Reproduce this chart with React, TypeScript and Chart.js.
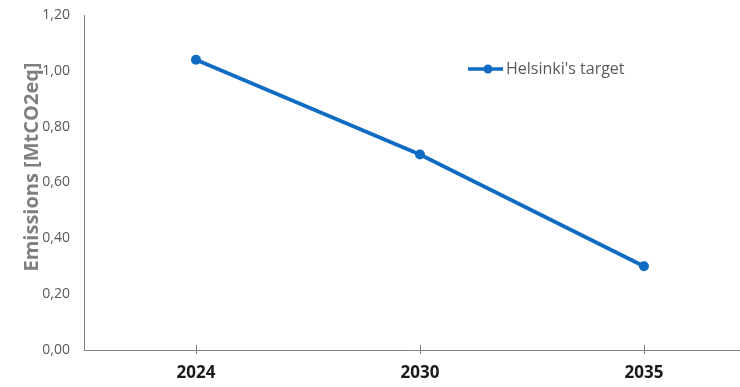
import React, { useEffect, useRef } from "react";
import { Chart, registerables } from "chart.js";

Chart.register(...registerables);

const categories = ["2024", "2030", "2035"];
const targetValues = [1.04, 0.7, 0.3];
const yTicks = [0, 0.2, 0.4, 0.6, 0.8, 1.0, 1.2];
const seriesName = "Helsinki's target";
const yTitle = "Emissions [MtCO2eq]";

const BLUE = "#0f6cc2";
const FONT = "'Open Sans', 'Liberation Sans', sans-serif";

const overlay = {
  id: "overlay",
  afterDraw(chart: any) {
    const ctx = chart.ctx;
    const xs = chart.scales.x;
    const ys = chart.scales.y;
    const axisY = ys.getPixelForValue(0);
    ctx.save();
    // crossing tick marks on x axis
    ctx.strokeStyle = "#808080";
    ctx.lineWidth = 1;
    categories.forEach((_, i) => {
      const px = Math.round(xs.getPixelForValue(i)) + 0.5;
      ctx.beginPath();
      ctx.moveTo(px, axisY - 5);
      ctx.lineTo(px, axisY + 4);
      ctx.stroke();
    });
    // y axis title
    ctx.translate(32, 167);
    ctx.rotate(-Math.PI / 2);
    ctx.fillStyle = "#7f7f7f";
    ctx.font = `bold 20px ${FONT}`;
    ctx.textAlign = "center";
    ctx.textBaseline = "middle";
    ctx.fillText(yTitle, 0, 0);
    ctx.restore();

    // legend
    ctx.save();
    const lx = 468, ly = 69;
    ctx.strokeStyle = BLUE;
    ctx.lineWidth = 3.5;
    ctx.beginPath();
    ctx.moveTo(lx, ly);
    ctx.lineTo(lx + 35, ly);
    ctx.stroke();
    ctx.fillStyle = BLUE;
    ctx.beginPath();
    ctx.arc(lx + 20, ly, 4.5, 0, Math.PI * 2);
    ctx.fill();
    ctx.fillStyle = "#595959";
    ctx.font = `16px ${FONT}`;
    ctx.textAlign = "left";
    ctx.textBaseline = "middle";
    ctx.fillText(seriesName, lx + 38, ly);
    ctx.restore();
  },
};

export default function App() {
  const ref = useRef<HTMLCanvasElement>(null);
  useEffect(() => {
    if (!ref.current) return;
    const chart = new Chart(ref.current, {
      type: "line",
      data: {
        labels: categories,
        datasets: [
          {
            label: seriesName,
            data: targetValues.map((v, i) => ({ x: i, y: v })),
            borderColor: BLUE,
            backgroundColor: BLUE,
            borderWidth: 3.8,
            pointRadius: 5,
            pointBackgroundColor: BLUE,
            pointBorderWidth: 0,
            tension: 0,
          },
        ],
      },
      options: {
        animation: false,
        responsive: false,
        devicePixelRatio: 1,
        layout: { autoPadding: false, padding: { top: 15, left: 0, right: 0, bottom: 0 } },
        plugins: { legend: { display: false }, tooltip: { enabled: false } },
        scales: {
          x: {
            type: "linear",
            min: -0.5,
            max: 2.429,
            afterBuildTicks: (s: any) => {
              s.ticks = categories.map((_, i) => ({ value: i }));
            },
            afterFit: (s: any) => {
              s.height = 37;
              s.paddingLeft = 0;
              s.paddingRight = 0;
            },
            grid: { display: false, drawTicks: false },
            border: { display: true, color: "#808080", width: 1 },
            ticks: {
              padding: 13,
              color: "#1a1a1a",
              font: { family: FONT, size: 17, weight: "bold" },
              callback: (v: any) => categories[Number(v)] ?? "",
              maxRotation: 0,
            },
          },
          y: {
            min: 0,
            max: 1.2,
            afterBuildTicks: (s: any) => {
              s.ticks = yTicks.map((v) => ({ value: v }));
            },
            afterFit: (s: any) => {
              s.width = 84;
              s.paddingTop = 0;
              s.paddingBottom = 0;
            },
            grid: { display: false, drawTicks: false },
            border: { display: true, color: "#808080", width: 1 },
            ticks: {
              padding: 14,
              color: "#595959",
              font: { family: FONT, size: 14 },
              callback: (v: any) => Number(v).toFixed(2).replace(".", ","),
            },
          },
        },
      },
      plugins: [overlay],
    });
    return () => chart.destroy();
  }, []);
  return (
    <div style={{ position: "fixed", left: 0, top: 0, width: 740, height: 387, background: "#fff" }}>
      <canvas ref={ref} width={740} height={387} style={{ display: "block" }} />
    </div>
  );
}
